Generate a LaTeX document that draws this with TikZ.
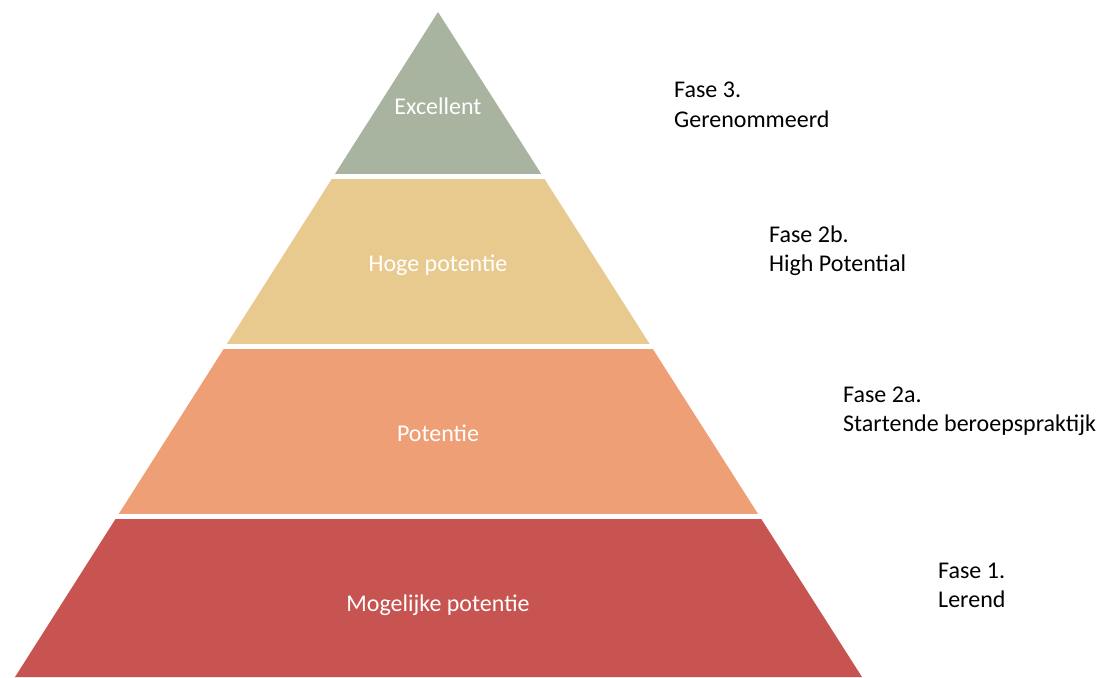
\documentclass[tikz,border=0pt]{standalone}
\usepackage{fontspec}
\setmainfont{Carlito}
\definecolor{lvlA}{RGB}{169,180,160}
\definecolor{lvlB}{RGB}{232,201,142}
\definecolor{lvlC}{RGB}{239,159,117}
\definecolor{lvlD}{RGB}{199,84,80}
\begin{document}
\begin{tikzpicture}[x=1pt,y=-1pt,
  inlabel/.style={text=white,font=\fontsize{24}{29}\selectfont,inner sep=0pt,anchor=base},
  sidelabel/.style={text=black,font=\fontsize{24}{29}\selectfont,inner sep=0pt,anchor=base west}]
\useasboundingbox (0,0) rectangle (1102,677);
\coordinate (apex) at (438,12);
\coordinate (bl) at (15,677);
\coordinate (br) at (862,677);
\begin{scope}
  \clip (0,0) rectangle (1102,173);
  \fill[lvlA] (apex) -- (bl) -- (br) -- cycle;
\end{scope}
\begin{scope}
  \clip (0,179) rectangle (1102,343);
  \fill[lvlB] (apex) -- (bl) -- (br) -- cycle;
\end{scope}
\begin{scope}
  \clip (0,349) rectangle (1102,513);
  \fill[lvlC] (apex) -- (bl) -- (br) -- cycle;
\end{scope}
\begin{scope}
  \clip (0,519) rectangle (1102,677);
  \fill[lvlD] (apex) -- (bl) -- (br) -- cycle;
\end{scope}
\node[inlabel] (exc) at (438,114) {Excellent};
\node[inlabel] (hoge) at (438,271) {Hoge potentie};
\node[inlabel] (pot) at (438,441) {Potentie};
\node[inlabel] (mog) at (438,611) {Mogelijke potentie};
\node[sidelabel] (f3a) at (674,97) {Fase 3.};
\node[sidelabel] (f3b) at (674,127) {Gerenommeerd};
\node[sidelabel] (f2ba) at (769,242) {Fase 2b.};
\node[sidelabel] (f2bb) at (769,271) {High Potential};
\node[sidelabel] (f2aa) at (843,402) {Fase 2a.};
\node[sidelabel] (f2ab) at (843,431) {Startende beroepspraktijk};
\node[sidelabel] (f1a) at (938,578) {Fase 1.};
\node[sidelabel] (f1b) at (938,607) {Lerend};
\end{tikzpicture}
\end{document}
